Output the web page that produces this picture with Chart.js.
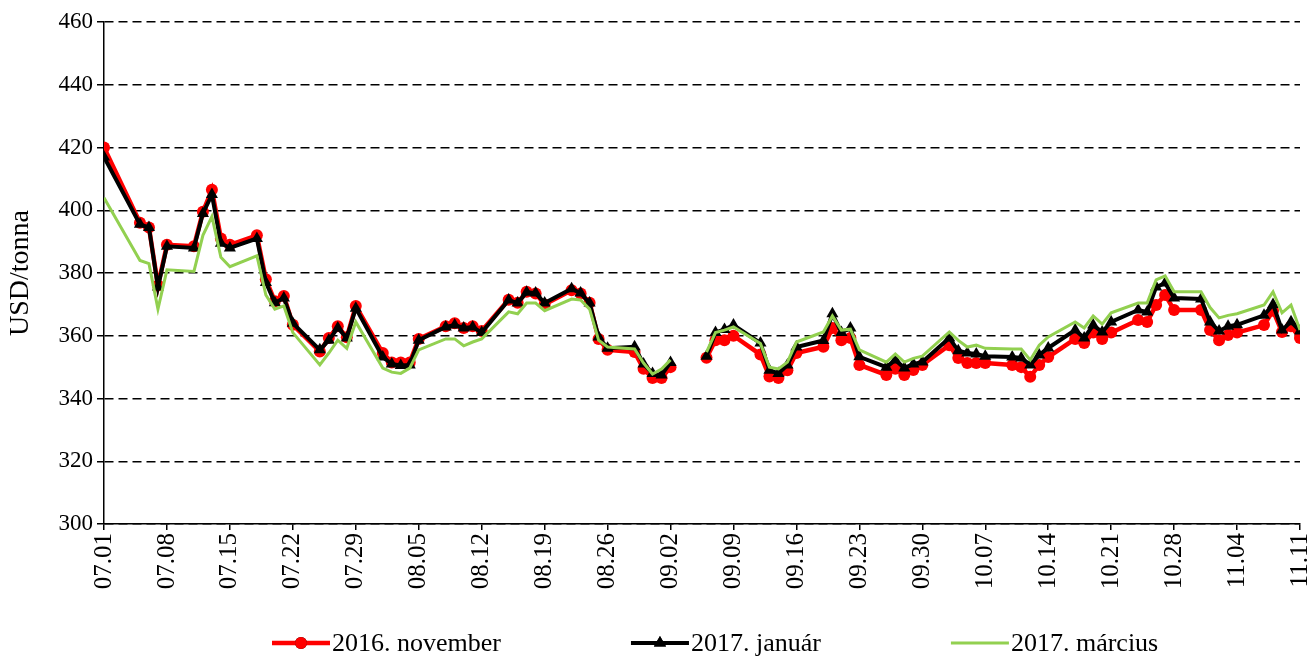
<!DOCTYPE html>
<html>
<head>
<meta charset="utf-8">
<script src="https://cdn.jsdelivr.net/npm/chart.js@4.4.0/dist/chart.umd.min.js"></script>
<style>
  html, body { margin: 0; padding: 0; background: #fff; }
  #wrap { width: 1307px; height: 659px; }
</style>
</head>
<body>
<div id="wrap"><canvas id="chart" width="1307" height="659"></canvas></div>
<script>
// trading days (09.05 is a holiday -> gap in the lines)
const dates = [
  '07.01','07.05','07.06','07.07','07.08','07.11','07.12','07.13','07.14','07.15',
  '07.18','07.19','07.20','07.21','07.22','07.25','07.26','07.27','07.28','07.29',
  '08.01','08.02','08.03','08.04','08.05','08.08','08.09','08.10','08.11','08.12',
  '08.15','08.16','08.17','08.18','08.19','08.22','08.23','08.24','08.25','08.26',
  '08.29','08.30','08.31','09.01','09.02','09.05','09.06','09.07','09.08','09.09',
  '09.12','09.13','09.14','09.15','09.16','09.19','09.20','09.21','09.22','09.23',
  '09.26','09.27','09.28','09.29','09.30','10.03','10.04','10.05','10.06','10.07',
  '10.10','10.11','10.12','10.13','10.14','10.17','10.18','10.19','10.20','10.21',
  '10.24','10.25','10.26','10.27','10.28','10.31','11.01','11.02','11.03','11.04',
  '11.07','11.08','11.09','11.10','11.11'
];

const nov2016 = [
  420, 396, 394.5, 376, 389, 388.5, 399.5, 406.5, 391, 389,
  392, 378, 371, 372.7, 363.5, 355, 359.3, 363, 359.5, 369.5,
  354.5, 351.5, 351.5, 351.5, 359, 363, 364, 362.5, 363, 361.5,
  371.5, 370.5, 374, 373.5, 370, 374.5, 373.5, 370.5, 359, 355.5,
  354.8, 349.5, 346.5, 346.5, 350, null, 353, 358.6, 358.6, 360,
  354, 347, 346.5, 349, 354.5, 356.5, 362.5, 358.6, 359.3, 350.7,
  347.5, 349.5, 347.5, 349.1, 350.7, 357, 352.9, 351.3, 351.3, 351.3,
  350.7, 350, 346.9, 350.7, 353.2, 359, 357.7, 361, 359, 361,
  365, 364.4, 369.8, 373, 368.2, 368.2, 361.8, 358.6, 360.2, 361,
  363.4, 368, 361.2, 363, 359.3
];

const jan2017 = [
  417, 395.5, 394.5, 375.5, 388.5, 388, 399, 405, 389.5, 388,
  391, 377, 370.5, 372, 364, 355.5, 358.6, 362.5, 359.3, 368.8,
  353.2, 351, 350.5, 350.7, 358.6, 362.8, 363.4, 362.5, 362.8, 361,
  371.4, 370.4, 373.9, 373.6, 370.4, 375, 373.6, 370.4, 359.6, 356,
  356.5, 351, 348, 347.5, 351.5, null, 353.5, 361, 362, 363.4,
  357.7, 349, 348, 350.7, 356.4, 358.5, 367, 361, 362.5, 353.3,
  350, 352.3, 349.7, 351, 351.6, 359.3, 355.2, 354.5, 354.2, 353.5,
  353.2, 352.9, 350.7, 353.9, 356.1, 361.8, 359.3, 363.4, 361.2, 364.4,
  368.2, 367.6, 375.5, 376.8, 372, 371.7, 364.4, 361.5, 363, 363.5,
  366.5, 370, 361.8, 364.5, 361.5
];

const mar2017 = [
  404, 384, 383, 368.5, 381, 380.5, 392, 398, 385, 382,
  385.5, 373, 368.5, 369.5, 361, 350.7, 354.5, 358.6, 356, 364.4,
  349.7, 348.4, 348, 349.7, 355.5, 359, 359, 356.8, 358, 359,
  367.6, 367, 370.4, 370.4, 368, 371.7, 371.4, 368.5, 358.6, 356.4,
  355.8, 351.3, 347.8, 349.4, 352.3, null, 354.8, 361, 361.8, 362.8,
  357.5, 350, 349.4, 351.6, 358, 361.2, 366.3, 361.8, 362.1, 355.5,
  351.6, 354.2, 351.6, 352.8, 353.5, 361.2, 358.5, 356.4, 357, 356,
  355.8, 355.8, 352.3, 357, 359.6, 364.4, 362.5, 366.3, 363.7, 367.3,
  370.4, 370.4, 377.8, 379.1, 374, 374, 369, 365.7, 366.5, 367,
  369.8, 374, 367.3, 369.8, 361.8
];

const tickLabels = [
  '07.01','07.08','07.15','07.22','07.29','08.05','08.12','08.19','08.26','09.02',
  '09.09','09.16','09.23','09.30','10.07','10.14','10.21','10.28','11.04','11.11'
];

const seriesNames = ['2016. november', '2017. január', '2017. március'];

const FONT = 'Liberation Serif';

function dayIndex(s) {
  const [m, d] = s.split('.').map(Number);
  return Math.round((Date.UTC(2016, m - 1, d) - Date.UTC(2016, 6, 1)) / 864e5);
}
const toPoints = vals => dates.map((d, i) => ({ x: dayIndex(d), y: vals[i] }));

// legend under the axis labels: line + marker + text, equal gaps between entries
const bottomLegend = {
  id: 'bottomLegend',
  afterDraw(chart) {
    const ctx = chart.ctx;
    const y = 643, lineLen = 58, gap = 130;
    let x0 = 272;
    ctx.save();
    ctx.font = '26px "' + FONT + '"';
    ctx.textBaseline = 'middle';
    chart.data.datasets.forEach(ds => {
      ctx.strokeStyle = ds.borderColor;
      ctx.lineWidth = ds.borderWidth;
      ctx.beginPath();
      ctx.moveTo(x0, y);
      ctx.lineTo(x0 + lineLen, y);
      ctx.stroke();
      if (ds.pointRadius > 0) {
        Chart.helpers.drawPoint(ctx, {
          pointStyle: ds.pointStyle, radius: ds.pointRadius, rotation: 0, borderWidth: 0
        }, x0 + lineLen / 2, y);
        ctx.fillStyle = ds.backgroundColor;
        ctx.fill();
      }
      ctx.fillStyle = '#000';
      ctx.fillText(ds.label, x0 + lineLen + 2, y + 1);
      x0 += lineLen + 2 + ctx.measureText(ds.label).width + gap;
    });
    ctx.restore();
  }
};

new Chart(document.getElementById('chart'), {
  type: 'line',
  data: {
    datasets: [
      {
        label: seriesNames[0], data: toPoints(nov2016),
        borderColor: '#FF0000', backgroundColor: '#FF0000', borderWidth: 4.5,
        pointStyle: 'circle', pointRadius: 6, pointBorderWidth: 0, order: 3
      },
      {
        label: seriesNames[1], data: toPoints(jan2017),
        borderColor: '#000000', backgroundColor: '#000000', borderWidth: 4,
        pointStyle: 'triangle', pointRadius: 7, pointBorderWidth: 0, order: 2
      },
      {
        label: seriesNames[2], data: toPoints(mar2017),
        borderColor: '#92D050', backgroundColor: '#92D050', borderWidth: 3,
        pointRadius: 0, order: 1
      }
    ]
  },
  options: {
    responsive: false,
    animation: false,
    devicePixelRatio: 1,
    spanGaps: false,
    layout: { padding: { left: 0, right: 7, top: 22, bottom: 40 } },
    plugins: { legend: { display: false }, tooltip: { enabled: false } },
    scales: {
      x: {
        type: 'linear', min: 0, max: 133,
        grid: { drawOnChartArea: false, drawTicks: true, tickLength: 6, color: '#000', lineWidth: 1.5 },
        border: { color: '#000', width: 1.5 },
        ticks: {
          stepSize: 7, autoSkip: false, minRotation: 90, maxRotation: 90, padding: 3,
          color: '#000', font: { family: FONT, size: 25 },
          callback: v => tickLabels[v / 7]
        },
        afterFit: s => { s.height = 95; s.paddingLeft = 0; s.paddingRight = 0; }
      },
      y: {
        min: 300, max: 460,
        grid: { color: '#000', lineWidth: 1.5, tickLength: 7, tickBorderDash: [] },
        border: { color: '#000', width: 1.5, dash: [9, 5] },
        ticks: { stepSize: 20, padding: 4, color: '#000', font: { family: FONT, size: 23 } },
        title: { display: true, text: 'USD/tonna', color: '#000', font: { family: FONT, size: 28 }, padding: { top: 4, bottom: 0 } },
        afterFit: s => { s.width = 104; }
      }
    }
  },
  plugins: [bottomLegend]
});
</script>
</body>
</html>
